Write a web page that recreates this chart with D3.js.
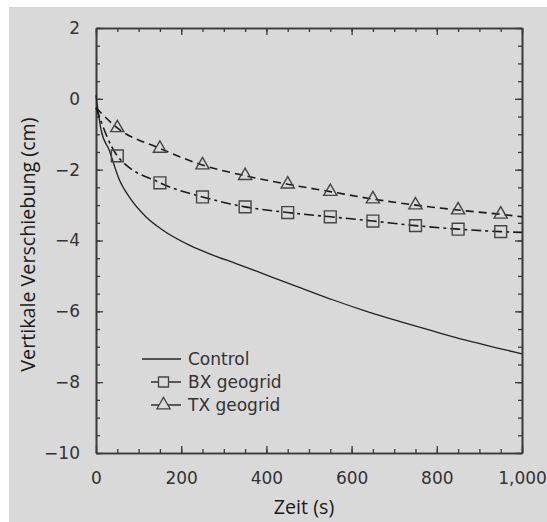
<!DOCTYPE html>
<html>
<head>
<meta charset="utf-8">
<script src="https://cdn.jsdelivr.net/npm/d3@7"></script>
<style>
  body { margin: 0; background: #fff; }
  .tick text { font-family: "DejaVu Sans", sans-serif; font-size: 17px; fill: #333; }
  .AxisLabel { font-family: "Open Sans", sans-serif; font-size: 19.7px; fill: #1a1a1a; }
  .Legend { font-family: "DejaVu Sans", sans-serif; font-size: 17px; fill: #333; }
</style>
</head>
<body>
<div id="viz"></div>
<script>
// chart values
const controlTime  = [0, 12, 31, 55, 78, 117, 157, 219, 274, 329, 408, 479, 557, 635, 714, 792, 870, 948, 1000]
const controlValue = [0.1, -0.88, -1.45, -2.29, -2.77, -3.33, -3.71, -4.13, -4.41, -4.65, -5.01, -5.33, -5.68, -6.0, -6.29, -6.56, -6.82, -7.05, -7.2]

const markerTime = [50, 150, 250, 350, 450, 550, 650, 750, 850, 950]
const bxValue    = [-1.61, -2.37, -2.77, -3.05, -3.21, -3.33, -3.45, -3.58, -3.68, -3.75]
const txValue    = [-0.82, -1.40, -1.87, -2.17, -2.41, -2.62, -2.83, -3.00, -3.14, -3.26]
// line ends at t = 0 and t = 1000
const bxEnds = [-0.25, -3.77]
const txEnds = [-0.25, -3.33]

const xTicks = [0, 200, 400, 600, 800, 1000]
const yTicks = [-10, -8, -6, -4, -2, 0, 2]
const legendLabels = ["Control", "BX geogrid", "TX geogrid"]

const W = 547, H = 522
const plot = { left: 96, right: 522, top: 28, bottom: 453 }

const svg = d3.select("#viz").append("svg")
    .attr("width", W)
    .attr("height", H)

svg.append("rect")
    .attr("x", 9).attr("y", 7)
    .attr("width", W - 9).attr("height", H - 7)
    .attr("fill", "#d9d9d9")

const x = d3.scaleLinear().domain([0, 1000]).range([plot.left, plot.right])
const y = d3.scaleLinear().domain([-10, 2]).range([plot.bottom, plot.top])

const axisColor = "#3a3a3a"

function styleAxis(g) {
    g.select(".domain").attr("stroke", axisColor).attr("stroke-width", 1.6)
    g.selectAll(".tick line").attr("stroke", axisColor).attr("stroke-width", 1.3)
}

// minor ticks, all four sides
const xMinor = d3.range(0, 1001, 50), yMinor = d3.range(-10, 2.01, 0.5)
const sides = [
    [d3.axisBottom, x, xMinor, `translate(0,${plot.bottom})`],
    [d3.axisTop,    x, xMinor, `translate(0,${plot.top})`],
    [d3.axisLeft,   y, yMinor, `translate(${plot.left},0)`],
    [d3.axisRight,  y, yMinor, `translate(${plot.right},0)`]
]
sides.forEach(([ax, sc, vals, tr]) => {
    svg.append("g").attr("transform", tr)
        .call(ax(sc).tickValues(vals).tickSizeInner(-4).tickSizeOuter(0).tickFormat(""))
        .call(styleAxis)
})

// major ticks
const xAxis = svg.append("g").attr("transform", `translate(0,${plot.bottom})`)
    .call(d3.axisBottom(x).tickValues(xTicks).tickSizeInner(-7).tickSizeOuter(0)
        .tickPadding(19).tickFormat(d3.format(",")))
    .call(styleAxis)
xAxis.selectAll("text").attr("fill", "#333")

svg.append("g").attr("transform", `translate(0,${plot.top})`)
    .call(d3.axisTop(x).tickValues(xTicks).tickSizeInner(-7).tickSizeOuter(0).tickFormat(""))
    .call(styleAxis)

const yAxis = svg.append("g").attr("transform", `translate(${plot.left},0)`)
    .call(d3.axisLeft(y).tickValues(yTicks).tickSizeInner(-7).tickSizeOuter(0)
        .tickPadding(16).tickFormat(d3.format("d")))
    .call(styleAxis)
yAxis.selectAll("text").attr("fill", "#333")

svg.append("g").attr("transform", `translate(${plot.right},0)`)
    .call(d3.axisRight(y).tickValues(yTicks).tickSizeInner(-7).tickSizeOuter(0).tickFormat(""))
    .call(styleAxis)
svg.selectAll(".domain").raise()

// axis titles
svg.append("text").attr("class", "AxisLabel")
    .attr("text-anchor", "middle")
    .attr("transform", `translate(35,${(plot.top + plot.bottom) / 2 + 4}) rotate(-90)`)
    .text("Vertikale Verschiebung (cm)")
svg.append("text").attr("class", "AxisLabel")
    .attr("text-anchor", "middle")
    .attr("x", 304).attr("y", 514)
    .text("Zeit (s)")

// series
const line = d3.line().x(d => x(d[0])).y(d => y(d[1])).curve(d3.curveMonotoneX)

const controlPts = controlTime.map((t, i) => [t, controlValue[i]])
const bxPts = [[0, bxEnds[0]], ...markerTime.map((t, i) => [t, bxValue[i]]), [1000, bxEnds[1]]]
const txPts = [[0, txEnds[0]], ...markerTime.map((t, i) => [t, txValue[i]]), [1000, txEnds[1]]]

svg.append("path").attr("d", line(controlPts))
    .attr("fill", "none").attr("stroke", "#222").attr("stroke-width", 1.3)
svg.append("path").attr("d", line(bxPts))
    .attr("fill", "none").attr("stroke", "#1a1a1a").attr("stroke-width", 1.6)
    .attr("stroke-dasharray", "10,4,3,4")
svg.append("path").attr("d", line(txPts))
    .attr("fill", "none").attr("stroke", "#1a1a1a").attr("stroke-width", 1.6)
    .attr("stroke-dasharray", "8,5")

const markerStroke = "#444"
const square = d3.symbol().type(d3.symbolSquare).size(140)
const triangle = d3.symbol().type(d3.symbolTriangle).size(75)

svg.append("g").selectAll("path").data(markerTime)
    .join("path")
    .attr("d", square)
    .attr("transform", (t, i) => `translate(${x(t)},${y(bxValue[i])})`)
    .attr("fill", "none").attr("stroke", markerStroke).attr("stroke-width", 1.4)
svg.append("g").selectAll("path").data(markerTime)
    .join("path")
    .attr("d", triangle)
    .attr("transform", (t, i) => `translate(${x(t)},${y(txValue[i])})`)
    .attr("fill", "none").attr("stroke", markerStroke).attr("stroke-width", 1.4)

// legend
const legend = svg.append("g").attr("transform", "translate(0,359)")
legendLabels.forEach((label, i) => {
    const row = legend.append("g").attr("transform", `translate(0,${i * 23})`)
    const x0 = i == 0 ? 142 : 151
    row.append("line").attr("x1", x0).attr("x2", 181).attr("y1", 0).attr("y2", 0)
        .attr("stroke", "#222").attr("stroke-width", 1.4)
    if (i > 0) {
        row.append("path")
            .attr("d", i == 1 ? d3.symbol().type(d3.symbolSquare).size(100)() : triangle())
            .attr("transform", "translate(163.5,0)")
            .attr("fill", "#d9d9d9").attr("stroke", markerStroke).attr("stroke-width", 1.3)
    }
    row.append("text").attr("class", "Legend")
        .attr("x", 188).attr("y", 6)
        .text(label)
})
</script>
</body>
</html>
